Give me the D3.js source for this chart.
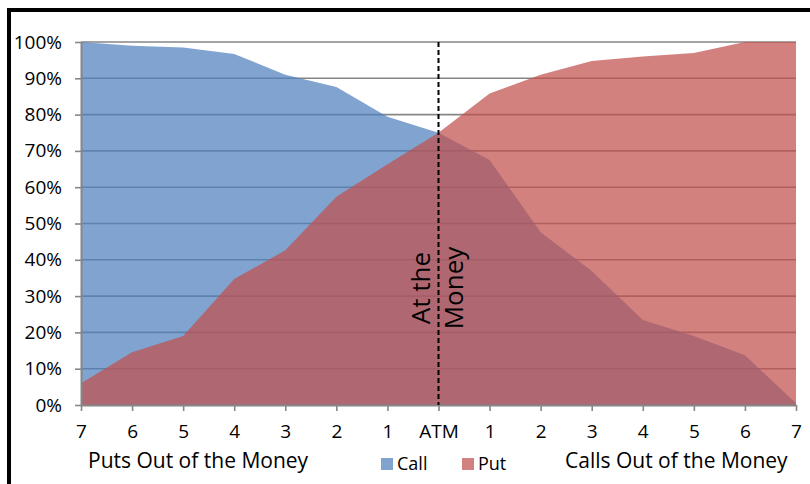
<!DOCTYPE html>
<html>
<head>
<meta charset="utf-8">
<script src="https://cdn.jsdelivr.net/npm/d3@7"></script>
<style>
  body { margin: 0; background: #fff; }
  svg { display: block; font-family: "Open Sans", sans-serif; }
</style>
</head>
<body>
<svg width="810" height="484"></svg>
<script>
// strikes from deep out-of-the-money puts to deep out-of-the-money calls
var xLabels = ["7", "6", "5", "4", "3", "2", "1", "ATM", "1", "2", "3", "4", "5", "6", "7"];
var callDelta = [1.00, 0.99, 0.985, 0.967, 0.91, 0.876, 0.794, 0.75, 0.675, 0.476, 0.369, 0.234, 0.19, 0.137, 0.005];
var putDelta = [0.06, 0.145, 0.19, 0.347, 0.426, 0.574, 0.663, 0.75, 0.858, 0.91, 0.948, 0.96, 0.97, 1.00, 1.00];
var yTicks = [0, 0.1, 0.2, 0.3, 0.4, 0.5, 0.6, 0.7, 0.8, 0.9, 1.0];
var seriesNames = ["Call", "Put"];

var svg = d3.select("svg");

var x = d3.scaleLinear().domain([0, xLabels.length - 1]).range([81, 796]),
    y = d3.scaleLinear().domain([0, 1]).range([405, 42]);

var colors = {Call: "#4F81BD", Put: "#C0504D"},
    fillOpacity = 0.72,
    gray = "#868686";

// gridlines sit under the semi transparent areas
svg.append("g").selectAll("line")
    .data(yTicks.slice(1))
  .enter().append("line")
    .attr("x1", x(0)).attr("x2", x(xLabels.length - 1))
    .attr("y1", function(d) { return y(d); })
    .attr("y2", function(d) { return y(d); })
    .attr("stroke", gray)
    .attr("stroke-width", 1.6);

var area = d3.area()
    .x(function(d, i) { return x(i); })
    .y0(y(0))
    .y1(function(d) { return y(d); });

svg.append("path").datum(callDelta)
    .attr("d", area)
    .attr("fill", colors.Call)
    .attr("fill-opacity", fillOpacity);

svg.append("path").datum(putDelta)
    .attr("d", area)
    .attr("fill", colors.Put)
    .attr("fill-opacity", fillOpacity);

// axes
var yAxis = svg.append("g")
    .attr("transform", "translate(" + x(0) + ",0)")
    .call(d3.axisLeft(y).tickValues(yTicks).tickFormat(d3.format(".0%"))
      .tickSize(6).tickSizeOuter(0).tickPadding(13));

var xAxis = svg.append("g")
    .attr("transform", "translate(0," + y(0) + ")")
    .call(d3.axisBottom(x).tickValues(d3.range(xLabels.length))
      .tickFormat(function(i) { return xLabels[i]; })
      .tickSize(6).tickSizeOuter(0).tickPadding(14));

[yAxis, xAxis].forEach(function(g) {
  g.select(".domain").attr("stroke", gray).attr("stroke-width", 2);
  g.selectAll(".tick line").attr("stroke", gray).attr("stroke-width", 1.6);
  g.selectAll(".tick text")
    .attr("fill", "#000")
    .style("font-family", "'Open Sans', sans-serif")
    .style("font-size", "19px");
});

// at the money marker
var atm = xLabels.indexOf("ATM");
svg.append("line")
    .attr("x1", x(atm)).attr("x2", x(atm))
    .attr("y1", y(1)).attr("y2", y(0))
    .attr("stroke", "#000")
    .attr("stroke-width", 2)
    .attr("stroke-dasharray", "5,3");

[["At the", 430], ["Money", 463]].forEach(function(t) {
  svg.append("text")
      .attr("transform", "translate(" + t[1] + ",288) rotate(-90)")
      .attr("text-anchor", "middle")
      .style("font-size", "26px")
      .text(t[0]);
});

// bottom captions
svg.append("text")
    .attr("x", 88).attr("y", 468)
    .style("font-size", "21px")
    .text("Puts Out of the Money");

svg.append("text")
    .attr("x", 565).attr("y", 468)
    .style("font-size", "21px")
    .text("Calls Out of the Money");

// legend
var legend = svg.append("g").selectAll("g")
    .data(seriesNames)
  .enter().append("g")
    .attr("transform", function(d, i) { return "translate(" + (381 + i * 81) + ",458)"; });

legend.append("rect")
    .attr("width", 12).attr("height", 12)
    .attr("fill", function(d) { return colors[d]; })
    .attr("fill-opacity", fillOpacity);

legend.append("text")
    .attr("x", 16).attr("y", 12)
    .style("font-size", "18px")
    .text(function(d) { return d; });

// chart frame
svg.append("rect")
    .attr("x", 9).attr("y", 10)
    .attr("width", 900).attr("height", 600)
    .attr("fill", "none")
    .attr("stroke", "#000")
    .attr("stroke-width", 4);
</script>
</body>
</html>
